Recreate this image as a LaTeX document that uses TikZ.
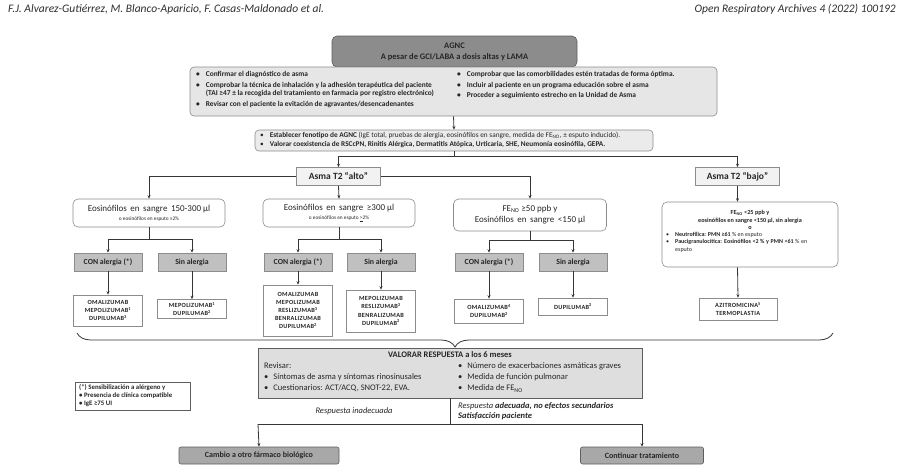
\documentclass[tikz,border=0pt]{standalone}
\usepackage{fontspec}
\usepackage{xcolor}
\usepackage{tikz}
\usetikzlibrary{arrows.meta,decorations.pathreplacing}
\setmainfont{Carlito}
\newfontfamily\drugfont[LetterSpace=5]{Carlito}
\newcommand{\setfs}[2]{\fontsize{#1}{#2}\selectfont}
\newcommand{\FeNO}{FE\textsubscript{NO}}
\definecolor{InkGray}{HTML}{262626}
\definecolor{HeadGray}{HTML}{2E2E2E}
\definecolor{LineGray}{HTML}{363636}
\definecolor{EdgeGray}{HTML}{8C8C8C}
\definecolor{DarkEdge}{HTML}{5E5E5E}
\definecolor{DarkFill}{HTML}{8C8C8C}
\definecolor{PaleFill}{HTML}{E6E6E6}
\definecolor{SoftFill}{HTML}{F2F2F2}
\definecolor{MidFill}{HTML}{C0C0C0}
\definecolor{BtnFill}{HTML}{A8A8A8}
\definecolor{EvalFill}{HTML}{DEDEDE}

\begin{document}
\begin{tikzpicture}[x=1pt,y=-1pt,
    every node/.style={text=InkGray, inner sep=0pt, align=center},
    header/.style={font=\setfs{11.5}{13}\itshape, text=HeadGray},
    conn/.style={draw=LineGray, line width=0.8pt},
    arr/.style={conn, -{Stealth[length=3.5pt,width=3pt]}},
    agncbox/.style={fill=DarkFill, draw=DarkEdge, line width=0.6pt, rounded corners=5pt,
      font=\setfs{8.5}{11}\bfseries},
    panel/.style={fill=PaleFill, draw=EdgeGray, line width=0.6pt, rounded corners=4pt},
    paneltext/.style={anchor=north west, align=left, font=\setfs{7.4}{8.6}\bfseries},
    t2box/.style={fill=SoftFill, draw=EdgeGray, line width=0.6pt,
      minimum width=84pt, minimum height=18pt, font=\setfs{9.5}{11}\bfseries},
    eosbox/.style={fill=white, draw=EdgeGray, line width=0.6pt, rounded corners=5pt,
      minimum width=152pt, font=\setfs{9}{11}},
    allergy/.style={fill=MidFill, draw=EdgeGray, line width=0.6pt,
      minimum width=68pt, minimum height=18pt, font=\setfs{7.8}{9}\bfseries},
    drug/.style={fill=white, draw=EdgeGray, line width=0.6pt,
      minimum width=69pt, font=\drugfont\bfseries\setfs{6.3}{8.2}},
    endbox/.style={fill=BtnFill, draw=DarkEdge, line width=0.6pt, rounded corners=2pt,
      minimum height=17pt, font=\setfs{8}{9.5}\bfseries}
  ]
\useasboundingbox (0,0) rectangle (912,475);

\node[header, anchor=west] (hdrL) at (8,9)
  {F.J. Alvarez-Gutiérrez, M. Blanco-Aparicio, F. Casas-Maldonado et al.};
\node[header, anchor=east] (hdrR) at (896,9)
  {Open Respiratory Archives 4 (2022) 100192};

\node[agncbox, minimum width=245pt, minimum height=31pt] (agnc) at (454.5,51.5)
  {AGNC\\A pesar de GCI/LABA a dosis altas y LAMA};
\node[panel, minimum width=527pt, minimum height=49pt] (prev) at (453.5,91.5) {};
\node[paneltext] (prevL) at (196,70.5) {%
  \begin{tabular}{@{}l@{\hspace{6pt}}l@{}}
  • & Confirmar el diagnóstico de asma\\[2pt]
  • & Comprobar la técnica de inhalación y la adhesión terapéutica del paciente\\
    & (TAI ≥47 ± la recogida del tratamiento en farmacia por registro electrónico)\\[2pt]
  • & Revisar con el paciente la evitación de agravantes/desencadenantes
  \end{tabular}};
\node[paneltext] (prevR) at (457,70.5) {%
  \begin{tabular}{@{}l@{\hspace{6pt}}l@{}}
  • & Comprobar que las comorbilidades estén tratadas de forma óptima.\\[2pt]
  • & Incluir al paciente en un programa educación sobre el asma\\[2pt]
  • & Proceder a seguimiento estrecho en la Unidad de Asma
  \end{tabular}};

\node[panel, fill=PaleFill!80, minimum width=398pt, minimum height=21pt] (feno) at (454,140.5) {};
\node[anchor=west, align=left, font=\setfs{7.3}{8.8}] (fenoT) at (260,140.5) {%
  \begin{tabular}{@{}l@{\hspace{6pt}}l@{}}
  • & \textbf{Establecer fenotipo de AGNC} (IgE total, pruebas de alergia, eosinófilos en sangre, medida de \FeNO, ± esputo inducido).\\
  • & \textbf{Valorar coexistencia de RSCcPN, Rinitis Alérgica, Dermatitis Atópica, Urticaria, SHE, Neumonía eosinófila, GEPA.}
  \end{tabular}};

\node[t2box] (alto) at (338.5,176.5) {Asma T2 “alto”};
\node[t2box] (bajo) at (737.5,176.5) {Asma T2 “bajo”};

\node[eosbox, minimum height=28pt] (eos1) at (149,213)
  {Eosinófilos\, en\, sangre\, 150-300 µl\\[-2pt]{\setfs{5.3}{6}o eosinófilos en esputo ≥2\%}};
\node[eosbox, minimum height=28pt] (eos2) at (339,213)
  {Eosinófilos\, en\, sangre\, ≥300 µl\\[-2pt]{\setfs{5.3}{6}o eosinófilos en esputo \underline{>}2\%}};
\node[eosbox, minimum width=153pt, minimum height=32pt] (feno1) at (530,215)
  {\FeNO{} ≥50 ppb y\\Eosinófilos\, en\, sangre\, <150 µl};
\node[eosbox, minimum width=176pt, minimum height=65pt] (fenob) at (750,234.5) {};
\node[font=\setfs{6.2}{7.4}\bfseries] (fenobT) at (750,220)
  {\FeNO{} <25 ppb y\\eosinófilos en sangre <150 µl, sin alergia\\o};
\node[anchor=north west, align=left, font=\setfs{6}{7.8}] (fenobL) at (666,230.5) {%
  \begin{tabular}{@{}l@{\hspace{6pt}}p{132pt}@{}}
  • & \textbf{Neutrofílica: PMN ≥61} \% en esputo\\
  • & \textbf{Paucigranulocítica: Eosinófilos <2 \% y PMN <61} \% en esputo
  \end{tabular}};

\node[allergy] (con1) at (108,262) {CON alergia (*)};
\node[allergy] (sin1) at (192,262) {Sin alergia};
\node[allergy] (con2) at (298,262) {CON alergia (*)};
\node[allergy] (sin2) at (381,262) {Sin alergia};
\node[allergy] (con3) at (489,262) {CON alergia (*)};
\node[allergy] (sin3) at (573,262) {Sin alergia};

\node[drug, minimum height=31pt] (d1a) at (108,310.5)
  {OMALIZUMAB\\MEPOLIZUMAB\textsuperscript{1}\\DUPILUMAB\textsuperscript{3}};
\node[drug, minimum height=19pt] (d1b) at (192,309)
  {MEPOLIZUMAB\textsuperscript{1}\\DUPILUMAB\textsuperscript{2}};
\node[drug, minimum height=51pt] (d2a) at (298,310.5)
  {OMALIZUMAB\\MEPOLIZUMAB\\RESLIZUMAB\textsuperscript{3}\\BENRALIZUMAB\\DUPILUMAB\textsuperscript{2}};
\node[drug, minimum height=42pt] (d2b) at (381,311)
  {MEPOLIZUMAB\\RESLIZUMAB\textsuperscript{3}\\BENRALIZUMAB\\DUPILUMAB\textsuperscript{2}};
\node[drug, minimum height=24pt] (d3a) at (489,311)
  {OMALIZUMAB\textsuperscript{4}\\DUPILUMAB\textsuperscript{2}};
\node[drug, minimum height=17pt] (d3b) at (573,306.5)
  {DUPILUMAB\textsuperscript{2}};
\node[drug, minimum width=78pt, minimum height=22pt] (azi) at (738,309)
  {AZITROMICINA\textsuperscript{5}\\TERMOPLASTIA};

\node[draw=DarkEdge, line width=0.6pt, minimum width=115pt, minimum height=28pt] (legend) at (132.5,396) {};
\node[anchor=west, align=left, font=\setfs{6.8}{8}\bfseries] (legendT) at (79,396)
  {(*) Sensibilización a alérgeno y\\• Presencia de clínica compatible\\• IgE ≥75 UI};

\node[fill=EvalFill, draw=DarkEdge, line width=0.6pt, minimum width=384pt, minimum height=50pt] (eval) at (450,373) {};
\node[font=\setfs{8.5}{10}\bfseries] (evalH) at (450,355) {VALORAR RESPUESTA a los 6 meses};
\node[anchor=north west, align=left, font=\setfs{8.5}{11}] (evalL) at (264,361) {%
  \begin{tabular}{@{}l@{\hspace{5pt}}l@{}}
  \multicolumn{2}{@{}l}{Revisar:}\\
  • & Síntomas de asma y síntomas rinosinusales\\
  • & Cuestionarios: ACT/ACQ, SNOT-22, EVA.
  \end{tabular}};
\node[anchor=north west, align=left, font=\setfs{8.5}{11}] (evalR) at (458,361) {%
  \begin{tabular}{@{}l@{\hspace{5pt}}l@{}}
  • & Número de exacerbaciones asmáticas graves\\
  • & Medida de función pulmonar\\
  • & Medida de \FeNO
  \end{tabular}};
\node[font=\setfs{8.5}{10}\itshape] (inad) at (354,411) {Respuesta inadecuada};
\node[anchor=west, align=left, font=\setfs{8.5}{10.5}\itshape] (adec) at (458,411)
  {Respuesta \textbf{adecuada, no efectos secundarios}\\\textbf{Satisfacción paciente}};

\node[endbox, minimum width=160pt] (cambio) at (259,455.5) {Cambio a otro fármaco biológico};
\node[endbox, minimum width=123pt] (cont) at (642,455.5) {Continuar tratamiento};

\coordinate (fenoJ) at (454,156);
\coordinate (j1) at (149,239);
\coordinate (j2) at (339,239);
\coordinate (j3) at (530,240);
\coordinate (braceL) at (77,333);
\coordinate (braceR) at (833,333);
\coordinate (splitL) at (258,424);
\coordinate (splitR) at (642,424);

\draw[arr] (prev.south) -- (feno.north);
\draw[conn] (feno.south) -- (fenoJ);
\draw[arr] (fenoJ) -| (alto.north);
\draw[arr] (fenoJ) -| (bajo.north);
\draw[arr] (alto.west) -| (eos1.north);
\draw[arr] (alto.east) -| (feno1.north);
\draw[arr] (alto.south) -- (eos2.north);
\draw[arr] (bajo.south) -- (bajo.south |- fenob.north);
\draw[arr] (bajo.south |- fenob.south) -- (azi.north);

\draw[conn] (eos1.south) -- (j1);
\draw[arr] (j1) -| (con1.north);
\draw[arr] (j1) -| (sin1.north);
\draw[conn] (eos2.south) -- (j2);
\draw[arr] (j2) -| (con2.north);
\draw[arr] (j2) -| (sin2.north);
\draw[conn] (feno1.south) -- (j3);
\draw[arr] (j3) -| (con3.north);
\draw[arr] (j3) -| (sin3.north);

\draw[arr] (con1.south) -- (d1a.north);
\draw[arr] (sin1.south) -- (d1b.north);
\draw[arr] (con2.south) -- (d2a.north);
\draw[arr] (sin2.south) -- (d2b.north);
\draw[arr] (con3.south) -- (d3a.north);
\draw[arr] (sin3.south) -- (d3b.north);

\draw[conn, decorate, decoration={brace, mirror, amplitude=14pt}] (braceL) -- (braceR);

\draw[conn] (eval.south) -- (eval.south |- splitL);
\draw[conn] (splitL) -- (splitR);
\draw[arr] (splitL) -- (cambio.north);
\draw[arr] (splitR) -- (cont.north);
\end{tikzpicture}
\end{document}
